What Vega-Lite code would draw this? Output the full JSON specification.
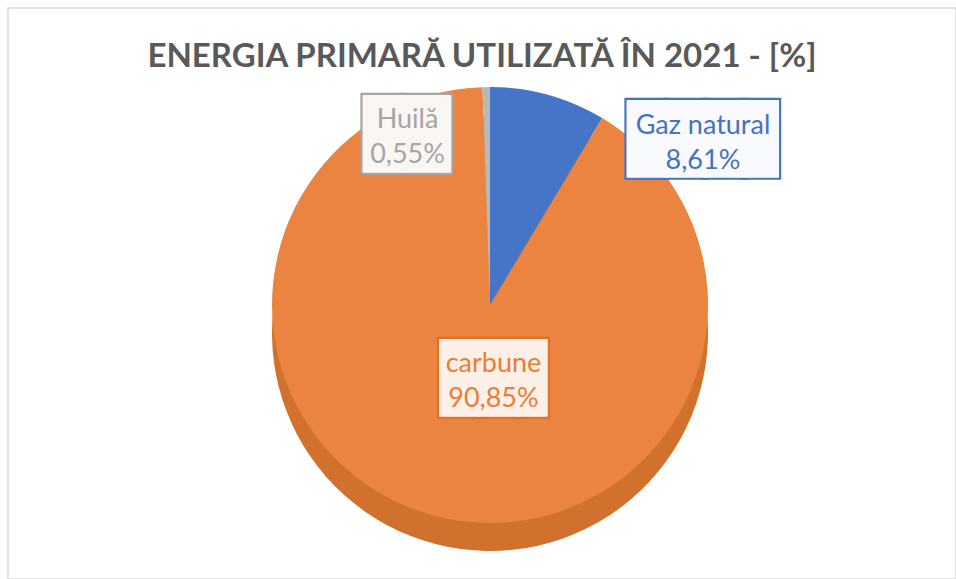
{
  "$schema": "https://vega.github.io/schema/vega-lite/v6.json",
  "width": 948,
  "height": 571,
  "autosize": {"type": "none"},
  "padding": {"left": 8, "top": 8, "right": 0, "bottom": 0},
  "background": "white",
  "view": {"stroke": "#D9D9D9", "strokeWidth": 1.5},
  "config": {"view": {"stroke": "#D9D9D9", "strokeWidth": 1.5}},
  "title": {
    "text": "ENERGIA PRIMARĂ UTILIZATĂ ÎN 2021 - [%]",
    "font": "Lato",
    "fontSize": 33,
    "fontWeight": "bold",
    "color": "#595959",
    "anchor": "middle",
    "baseline": "alphabetic",
    "offset": -92
  },
  "data": {
    "values": [
      {"cat": "Gaz natural", "value": 8.61, "label": ["Gaz natural", "8,61%"], "ord": 1},
      {"cat": "carbune", "value": 90.85, "label": ["carbune", "90,85%"], "ord": 2},
      {"cat": "Huilă", "value": 0.55, "label": ["Huilă", "0,55%"], "ord": 3}
    ]
  },
  "encoding": {
    "theta": {"field": "value", "type": "quantitative", "stack": true},
    "order": {"field": "ord", "type": "quantitative"}
  },
  "layer": [
    {
      "mark": {"type": "arc", "radius": 218, "color": "#D2712D", "x": {"expr": "width/2+8"}, "y": {"expr": "height/2+39.5"}}
    },
    {
      "mark": {"type": "arc", "radius": 218, "x": {"expr": "width/2+8"}, "y": {"expr": "height/2+11.5"}},
      "encoding": {
        "color": {
          "field": "cat",
          "type": "nominal",
          "scale": {"domain": ["Gaz natural", "carbune", "Huilă"], "range": ["#4674C6", "#EB8440", "#B8B8B8"]},
          "legend": null
        }
      }
    },
    {
      "mark": {
        "type": "text",
        "font": "DejaVu Sans Mono",
        "fontSize": 64.4,
        "align": "left",
        "baseline": "middle",
        "strokeWidth": 5.5,
        "strokeJoin": "miter",
        "x": {"expr": "width/2+8"},
        "y": {"expr": "height/2+11.5"},
        "radius": {"expr": "datum.cat === 'carbune' ? 74 : 172"},
        "dx": {"expr": "datum.cat === 'Gaz natural' ? 92 : datum.cat === 'Huilă' ? -123 : -31"},
        "dy": {"expr": "datum.cat === 'Gaz natural' ? 3 : datum.cat === 'Huilă' ? 3.5 : 4"}
      },
      "encoding": {
        "text": {"condition": [{"test": "datum.cat === 'Gaz natural'", "value": "███▉"}, {"test": "datum.cat === 'Huilă'", "value": "██▎"}], "value": "██▊"},
        "stroke": {"condition": [{"test": "datum.cat === 'Gaz natural'", "value": "#4472C4"}, {"test": "datum.cat === 'Huilă'", "value": "#A5A5A5"}], "value": "#E2701F"},
        "fill": {"condition": [{"test": "datum.cat === 'Gaz natural'", "value": "#4472C4"}, {"test": "datum.cat === 'Huilă'", "value": "#A5A5A5"}], "value": "#E2701F"}
      }
    },
    {
      "mark": {
        "type": "text",
        "font": "DejaVu Sans Mono",
        "fontSize": 64.4,
        "align": "left",
        "baseline": "middle",
        "strokeWidth": 1.2,
        "strokeJoin": "bevel",
        "x": {"expr": "width/2+8"},
        "y": {"expr": "height/2+11.5"},
        "radius": {"expr": "datum.cat === 'carbune' ? 74 : 172"},
        "dx": {"expr": "datum.cat === 'Gaz natural' ? 92 : datum.cat === 'Huilă' ? -123 : -31"},
        "dy": {"expr": "datum.cat === 'Gaz natural' ? 3 : datum.cat === 'Huilă' ? 3.5 : 4"}
      },
      "encoding": {
        "text": {"condition": [{"test": "datum.cat === 'Gaz natural'", "value": "███▉"}, {"test": "datum.cat === 'Huilă'", "value": "██▎"}], "value": "██▊"},
        "stroke": {"condition": [{"test": "datum.cat === 'Gaz natural'", "value": "#F9FAFD"}, {"test": "datum.cat === 'Huilă'", "value": "#FAF6F3"}], "value": "#FCF0E9"},
        "fill": {"condition": [{"test": "datum.cat === 'Gaz natural'", "value": "#F9FAFD"}, {"test": "datum.cat === 'Huilă'", "value": "#FAF6F3"}], "value": "#FCF0E9"}
      }
    },
    {
      "mark": {
        "type": "text",
        "font": "Lato",
        "fontSize": 27,
        "lineHeight": 35,
        "align": "center",
        "baseline": "middle",
        "x": {"expr": "width/2+8"},
        "y": {"expr": "height/2+11.5"},
        "radius": {"expr": "datum.cat === 'carbune' ? 74 : 172"},
        "dx": {"expr": "datum.cat === 'Gaz natural' ? 167 : datum.cat === 'Huilă' ? -79.5 : 22"},
        "dy": {"expr": "(datum.cat === 'Gaz natural' ? 0 : datum.cat === 'Huilă' ? 0.5 : 1) - 13.5"}
      },
      "encoding": {
        "text": {"field": "label"},
        "fill": {"condition": [{"test": "datum.cat === 'Gaz natural'", "value": "#4472C4"}, {"test": "datum.cat === 'Huilă'", "value": "#A5A5A5"}], "value": "#ED7D31"}
      }
    }
  ]
}
